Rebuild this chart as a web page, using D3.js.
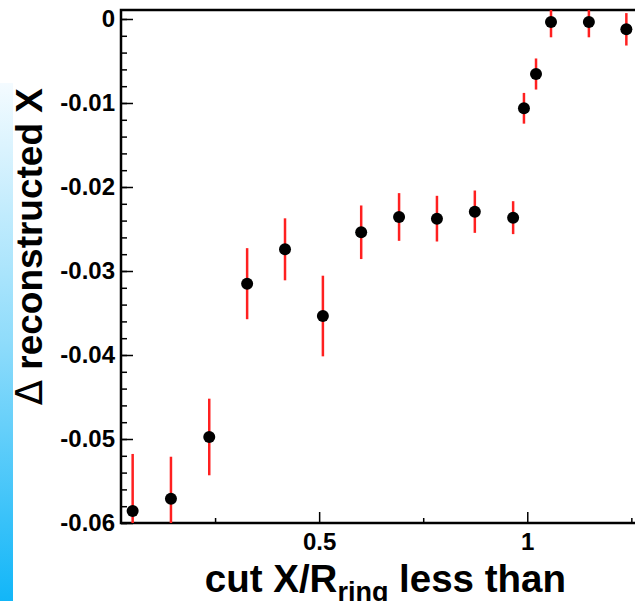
<!doctype html>
<html>
  <head>
    <meta charset='utf-8'>
    <script src='https://d3js.org/d3.v7.min.js'></script>
    <style>
      body { margin: 0; background: #fff; }
      svg { display: block; }
      text { font-family: 'Liberation Sans', Arial, Helvetica, sans-serif; font-weight: bold; }
    </style>
  </head>
  <body>
    <svg width='635' height='601'></svg>
    <script>
      // cut value (X / R_ring)
      var cutX = [0.052, 0.144, 0.236, 0.327, 0.418, 0.509, 0.601, 0.692, 0.783, 0.874, 0.966,
                  0.992, 1.021, 1.057, 1.148, 1.238];
      // delta reconstructed X
      var deltaX = [-0.05857, -0.05711, -0.04976, -0.03151, -0.02742, -0.03536, -0.02539, -0.02357,
                    -0.02377, -0.02294, -0.02365, -0.01063, -0.00655, -0.00036, -0.00036, -0.00123];
      var deltaErr = [0.00679, 0.00500, 0.00456, 0.00423, 0.00369, 0.00480, 0.00319, 0.00284,
                      0.00272, 0.00252, 0.00196, 0.00183, 0.00185, 0.00182, 0.00182, 0.00193];
      var yMajor = [-0.06, -0.05, -0.04, -0.03, -0.02, -0.01, 0];
      var xMajor = [0.5, 1];
      var xMinor = [0.25, 0.75, 1.25];

      var svg = d3.select('svg'),
          pLeft = 121, pTop = 10, pBottom = 523, pRight = 648;

      // colour strip on the left
      var defs = svg.append('defs');
      var grad = defs.append('linearGradient')
          .attr('id', 'strip').attr('x1', 0).attr('y1', 0).attr('x2', 0).attr('y2', 1);
      grad.append('stop').attr('offset', '0%').attr('stop-color', '#f4fbff');
      grad.append('stop').attr('offset', '50%').attr('stop-color', '#8fdcfb');
      grad.append('stop').attr('offset', '100%').attr('stop-color', '#12b6f8');
      svg.append('rect')
        .attr('x', 0).attr('y', 83).attr('width', 13).attr('height', 518)
        .attr('fill', 'url(#strip)');

      var x = d3.scaleLinear().domain([0.024, 1.29]).range([pLeft, pRight]);
      var y = d3.scaleLinear().domain([-0.06, 0.00107]).range([pBottom, pTop]);

      defs.append('clipPath').attr('id', 'plot')
        .append('rect').attr('x', pLeft).attr('y', pTop)
        .attr('width', pRight - pLeft).attr('height', pBottom - pTop);

      var fmt = function(d) { return d === 0 ? '0' : String(+d.toFixed(3)).replace('\u2212', '-'); };

      function styleAxis(g) {
        g.select('.domain').remove();
        g.selectAll('line').attr('stroke', '#000').attr('stroke-width', 1.5);
        g.selectAll('text').attr('font-size', 24).attr('fill', '#000')
          .attr('font-family', "'Liberation Sans', Arial, sans-serif").attr('font-weight', 'bold');
      }

      // y axis: minor ticks, then major ticks with labels
      var yMinor = d3.range(0, 31).map(function(i) { return -0.06 + i * 0.002; });
      svg.append('g')
          .attr('transform', 'translate(' + pLeft + ',0)')
          .call(d3.axisLeft(y).tickValues(yMinor).tickSize(-6).tickFormat(''))
          .call(styleAxis);
      svg.append('g')
          .attr('transform', 'translate(' + pLeft + ',0)')
          .call(d3.axisLeft(y).tickValues(yMajor).tickSize(-12).tickPadding(6).tickFormat(fmt))
          .call(styleAxis);

      // x axis
      svg.append('g')
          .attr('transform', 'translate(0,' + pBottom + ')')
          .call(d3.axisBottom(x).tickValues(xMinor).tickSize(-5).tickFormat(''))
          .call(styleAxis);
      svg.append('g')
          .attr('transform', 'translate(0,' + pBottom + ')')
          .call(d3.axisBottom(x).tickValues(xMajor).tickSize(-11).tickPadding(10).tickFormat(fmt))
          .call(styleAxis);

      // frame
      svg.append('path')
        .attr('d', 'M' + pRight + ',' + pTop + 'H' + pLeft + 'V' + pBottom + 'H' + pRight)
        .attr('fill', 'none').attr('stroke', '#000').attr('stroke-width', 2.5);

      var pts = cutX.map(function(c, i) { return {x: c, y: deltaX[i], e: deltaErr[i]}; });

      var plot = svg.append('g').attr('clip-path', 'url(#plot)');
      plot.selectAll('.err')
        .data(pts)
        .enter().append('line')
        .attr('x1', function(d) { return x(d.x); })
        .attr('x2', function(d) { return x(d.x); })
        .attr('y1', function(d) { return y(d.y - d.e); })
        .attr('y2', function(d) { return y(d.y + d.e); })
        .attr('stroke', '#ff2020')
        .attr('stroke-width', 2.5);

      plot.selectAll('.pt')
        .data(pts)
        .enter().append('circle')
        .attr('cx', function(d) { return x(d.x); })
        .attr('cy', function(d) { return y(d.y); })
        .attr('r', 6)
        .attr('fill', '#000');

      // axis titles
      var xt = svg.append('text')
        .attr('x', 566).attr('y', 592)
        .attr('text-anchor', 'end')
        .attr('font-size', 38.5);
      xt.append('tspan').text('cut X/R');
      xt.append('tspan').attr('font-size', 27).attr('dy', 9).text('ring');
      xt.append('tspan').attr('dy', -9).text(' less than');

      var yt = svg.append('text')
        .attr('transform', 'translate(42,88) rotate(-90)')
        .attr('text-anchor', 'end')
        .attr('font-size', 37);
      yt.append('tspan').attr('font-weight', 'normal').attr('font-family', "'DejaVu Sans', sans-serif").text('\u0394');
      yt.append('tspan').text(' reconstructed X');
    </script>
  </body>
</html>
